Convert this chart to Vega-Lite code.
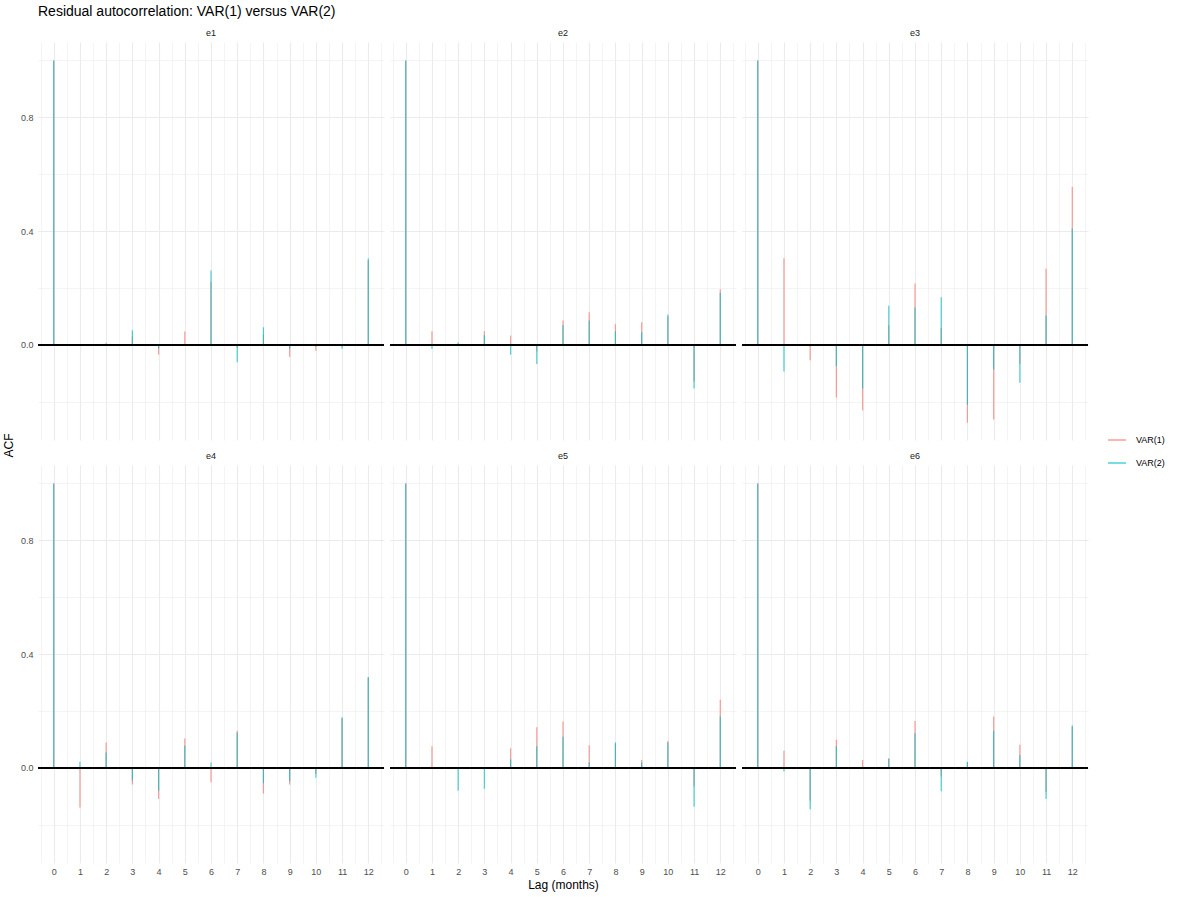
{
  "$schema": "https://vega.github.io/schema/vega-lite/v6.json",
  "background": "white",
  "padding": {"left": 2, "top": 5, "right": 5, "bottom": 5},
  "title": {"text": "Residual autocorrelation: VAR(1) versus VAR(2)", "anchor": "start", "frame": "group", "fontSize": 14, "fontWeight": "normal", "font": "Liberation Sans", "color": "black", "offset": 10},
  "data": {"values": [
    {"series":"e1","model":"VAR(1)","lag":0,"acf":1},{"series":"e1","model":"VAR(2)","lag":0,"acf":1},
    {"series":"e1","model":"VAR(1)","lag":1,"acf":0.002},{"series":"e1","model":"VAR(2)","lag":1,"acf":-0.002},
    {"series":"e1","model":"VAR(1)","lag":2,"acf":0.008},{"series":"e1","model":"VAR(2)","lag":2,"acf":0.002},
    {"series":"e1","model":"VAR(1)","lag":3,"acf":0.03},{"series":"e1","model":"VAR(2)","lag":3,"acf":0.052},
    {"series":"e1","model":"VAR(1)","lag":4,"acf":-0.034},{"series":"e1","model":"VAR(2)","lag":4,"acf":-0.013},
    {"series":"e1","model":"VAR(1)","lag":5,"acf":0.047},{"series":"e1","model":"VAR(2)","lag":5,"acf":0.003},
    {"series":"e1","model":"VAR(1)","lag":6,"acf":0.221},{"series":"e1","model":"VAR(2)","lag":6,"acf":0.262},
    {"series":"e1","model":"VAR(1)","lag":7,"acf":-0.01},{"series":"e1","model":"VAR(2)","lag":7,"acf":-0.061},
    {"series":"e1","model":"VAR(1)","lag":8,"acf":0.036},{"series":"e1","model":"VAR(2)","lag":8,"acf":0.062},
    {"series":"e1","model":"VAR(1)","lag":9,"acf":-0.041},{"series":"e1","model":"VAR(2)","lag":9,"acf":-0.013},
    {"series":"e1","model":"VAR(1)","lag":10,"acf":-0.02},{"series":"e1","model":"VAR(2)","lag":10,"acf":-0.005},
    {"series":"e1","model":"VAR(1)","lag":11,"acf":-0.005},{"series":"e1","model":"VAR(2)","lag":11,"acf":-0.013},
    {"series":"e1","model":"VAR(1)","lag":12,"acf":0.298},{"series":"e1","model":"VAR(2)","lag":12,"acf":0.304},

    {"series":"e2","model":"VAR(1)","lag":0,"acf":1},{"series":"e2","model":"VAR(2)","lag":0,"acf":1},
    {"series":"e2","model":"VAR(1)","lag":1,"acf":0.048},{"series":"e2","model":"VAR(2)","lag":1,"acf":-0.013},
    {"series":"e2","model":"VAR(1)","lag":2,"acf":0.005},{"series":"e2","model":"VAR(2)","lag":2,"acf":0.009},
    {"series":"e2","model":"VAR(1)","lag":3,"acf":0.048},{"series":"e2","model":"VAR(2)","lag":3,"acf":0.034},
    {"series":"e2","model":"VAR(1)","lag":4,"acf":0.033},{"series":"e2","model":"VAR(2)","lag":4,"acf":-0.034},
    {"series":"e2","model":"VAR(1)","lag":5,"acf":-0.022},{"series":"e2","model":"VAR(2)","lag":5,"acf":-0.067},
    {"series":"e2","model":"VAR(1)","lag":6,"acf":0.086},{"series":"e2","model":"VAR(2)","lag":6,"acf":0.069},
    {"series":"e2","model":"VAR(1)","lag":7,"acf":0.115},{"series":"e2","model":"VAR(2)","lag":7,"acf":0.086},
    {"series":"e2","model":"VAR(1)","lag":8,"acf":0.073},{"series":"e2","model":"VAR(2)","lag":8,"acf":0.048},
    {"series":"e2","model":"VAR(1)","lag":9,"acf":0.08},{"series":"e2","model":"VAR(2)","lag":9,"acf":0.045},
    {"series":"e2","model":"VAR(1)","lag":10,"acf":0.1},{"series":"e2","model":"VAR(2)","lag":10,"acf":0.107},
    {"series":"e2","model":"VAR(1)","lag":11,"acf":-0.128},{"series":"e2","model":"VAR(2)","lag":11,"acf":-0.153},
    {"series":"e2","model":"VAR(1)","lag":12,"acf":0.196},{"series":"e2","model":"VAR(2)","lag":12,"acf":0.184},

    {"series":"e3","model":"VAR(1)","lag":0,"acf":1},{"series":"e3","model":"VAR(2)","lag":0,"acf":1},
    {"series":"e3","model":"VAR(1)","lag":1,"acf":0.305},{"series":"e3","model":"VAR(2)","lag":1,"acf":-0.093},
    {"series":"e3","model":"VAR(1)","lag":2,"acf":-0.054},{"series":"e3","model":"VAR(2)","lag":2,"acf":-0.005},
    {"series":"e3","model":"VAR(1)","lag":3,"acf":-0.185},{"series":"e3","model":"VAR(2)","lag":3,"acf":-0.075},
    {"series":"e3","model":"VAR(1)","lag":4,"acf":-0.23},{"series":"e3","model":"VAR(2)","lag":4,"acf":-0.153},
    {"series":"e3","model":"VAR(1)","lag":5,"acf":0.069},{"series":"e3","model":"VAR(2)","lag":5,"acf":0.138},
    {"series":"e3","model":"VAR(1)","lag":6,"acf":0.216},{"series":"e3","model":"VAR(2)","lag":6,"acf":0.132},
    {"series":"e3","model":"VAR(1)","lag":7,"acf":0.06},{"series":"e3","model":"VAR(2)","lag":7,"acf":0.168},
    {"series":"e3","model":"VAR(1)","lag":8,"acf":-0.273},{"series":"e3","model":"VAR(2)","lag":8,"acf":-0.21},
    {"series":"e3","model":"VAR(1)","lag":9,"acf":-0.262},{"series":"e3","model":"VAR(2)","lag":9,"acf":-0.086},
    {"series":"e3","model":"VAR(1)","lag":10,"acf":-0.066},{"series":"e3","model":"VAR(2)","lag":10,"acf":-0.133},
    {"series":"e3","model":"VAR(1)","lag":11,"acf":0.268},{"series":"e3","model":"VAR(2)","lag":11,"acf":0.104},
    {"series":"e3","model":"VAR(1)","lag":12,"acf":0.555},{"series":"e3","model":"VAR(2)","lag":12,"acf":0.409},

    {"series":"e4","model":"VAR(1)","lag":0,"acf":1},{"series":"e4","model":"VAR(2)","lag":0,"acf":1},
    {"series":"e4","model":"VAR(1)","lag":1,"acf":-0.139},{"series":"e4","model":"VAR(2)","lag":1,"acf":0.022},
    {"series":"e4","model":"VAR(1)","lag":2,"acf":0.09},{"series":"e4","model":"VAR(2)","lag":2,"acf":0.054},
    {"series":"e4","model":"VAR(1)","lag":3,"acf":-0.058},{"series":"e4","model":"VAR(2)","lag":3,"acf":-0.044},
    {"series":"e4","model":"VAR(1)","lag":4,"acf":-0.109},{"series":"e4","model":"VAR(2)","lag":4,"acf":-0.08},
    {"series":"e4","model":"VAR(1)","lag":5,"acf":0.104},{"series":"e4","model":"VAR(2)","lag":5,"acf":0.078},
    {"series":"e4","model":"VAR(1)","lag":6,"acf":-0.05},{"series":"e4","model":"VAR(2)","lag":6,"acf":0.019},
    {"series":"e4","model":"VAR(1)","lag":7,"acf":0.131},{"series":"e4","model":"VAR(2)","lag":7,"acf":0.125},
    {"series":"e4","model":"VAR(1)","lag":8,"acf":-0.09},{"series":"e4","model":"VAR(2)","lag":8,"acf":-0.054},
    {"series":"e4","model":"VAR(1)","lag":9,"acf":-0.058},{"series":"e4","model":"VAR(2)","lag":9,"acf":-0.047},
    {"series":"e4","model":"VAR(1)","lag":10,"acf":-0.021},{"series":"e4","model":"VAR(2)","lag":10,"acf":-0.034},
    {"series":"e4","model":"VAR(1)","lag":11,"acf":0.175},{"series":"e4","model":"VAR(2)","lag":11,"acf":0.178},
    {"series":"e4","model":"VAR(1)","lag":12,"acf":0.318},{"series":"e4","model":"VAR(2)","lag":12,"acf":0.32},

    {"series":"e5","model":"VAR(1)","lag":0,"acf":1},{"series":"e5","model":"VAR(2)","lag":0,"acf":1},
    {"series":"e5","model":"VAR(1)","lag":1,"acf":0.076},{"series":"e5","model":"VAR(2)","lag":1,"acf":-0.003},
    {"series":"e5","model":"VAR(1)","lag":2,"acf":-0.002},{"series":"e5","model":"VAR(2)","lag":2,"acf":-0.08},
    {"series":"e5","model":"VAR(1)","lag":3,"acf":-0.002},{"series":"e5","model":"VAR(2)","lag":3,"acf":-0.073},
    {"series":"e5","model":"VAR(1)","lag":4,"acf":0.069},{"series":"e5","model":"VAR(2)","lag":4,"acf":0.03},
    {"series":"e5","model":"VAR(1)","lag":5,"acf":0.143},{"series":"e5","model":"VAR(2)","lag":5,"acf":0.076},
    {"series":"e5","model":"VAR(1)","lag":6,"acf":0.163},{"series":"e5","model":"VAR(2)","lag":6,"acf":0.11},
    {"series":"e5","model":"VAR(1)","lag":7,"acf":0.08},{"series":"e5","model":"VAR(2)","lag":7,"acf":0.02},
    {"series":"e5","model":"VAR(1)","lag":8,"acf":0.085},{"series":"e5","model":"VAR(2)","lag":8,"acf":0.09},
    {"series":"e5","model":"VAR(1)","lag":9,"acf":0.028},{"series":"e5","model":"VAR(2)","lag":9,"acf":0.019},
    {"series":"e5","model":"VAR(1)","lag":10,"acf":0.095},{"series":"e5","model":"VAR(2)","lag":10,"acf":0.09},
    {"series":"e5","model":"VAR(1)","lag":11,"acf":-0.065},{"series":"e5","model":"VAR(2)","lag":11,"acf":-0.136},
    {"series":"e5","model":"VAR(1)","lag":12,"acf":0.24},{"series":"e5","model":"VAR(2)","lag":12,"acf":0.181},

    {"series":"e6","model":"VAR(1)","lag":0,"acf":1},{"series":"e6","model":"VAR(2)","lag":0,"acf":1},
    {"series":"e6","model":"VAR(1)","lag":1,"acf":0.061},{"series":"e6","model":"VAR(2)","lag":1,"acf":-0.012},
    {"series":"e6","model":"VAR(1)","lag":2,"acf":-0.115},{"series":"e6","model":"VAR(2)","lag":2,"acf":-0.145},
    {"series":"e6","model":"VAR(1)","lag":3,"acf":0.099},{"series":"e6","model":"VAR(2)","lag":3,"acf":0.076},
    {"series":"e6","model":"VAR(1)","lag":4,"acf":0.028},{"series":"e6","model":"VAR(2)","lag":4,"acf":0.003},
    {"series":"e6","model":"VAR(1)","lag":5,"acf":0.035},{"series":"e6","model":"VAR(2)","lag":5,"acf":0.032},
    {"series":"e6","model":"VAR(1)","lag":6,"acf":0.165},{"series":"e6","model":"VAR(2)","lag":6,"acf":0.122},
    {"series":"e6","model":"VAR(1)","lag":7,"acf":-0.03},{"series":"e6","model":"VAR(2)","lag":7,"acf":-0.082},
    {"series":"e6","model":"VAR(1)","lag":8,"acf":0.02},{"series":"e6","model":"VAR(2)","lag":8,"acf":0.022},
    {"series":"e6","model":"VAR(1)","lag":9,"acf":0.181},{"series":"e6","model":"VAR(2)","lag":9,"acf":0.131},
    {"series":"e6","model":"VAR(1)","lag":10,"acf":0.082},{"series":"e6","model":"VAR(2)","lag":10,"acf":0.046},
    {"series":"e6","model":"VAR(1)","lag":11,"acf":-0.084},{"series":"e6","model":"VAR(2)","lag":11,"acf":-0.109},
    {"series":"e6","model":"VAR(1)","lag":12,"acf":0.145},{"series":"e6","model":"VAR(2)","lag":12,"acf":0.149}
  ]},
  "columns": 3,
  "spacing": {"row": 25, "column": 6},
  "bounds": "flush",
  "resolve": {"scale": {"x": "independent", "y": "independent", "color": "shared"}, "legend": {"color": "shared"}},
  "concat": [
    {
      "title": {"text": "e1"},
      "transform": [{"filter": "datum.series == 'e1'"}],
      "width": 346, "height": 398,
      "layer": [
        {"mark": {"type": "rule", "strokeWidth": 1.2, "opacity": 0.7},
         "encoding": {
          "x": {"field": "lag", "type": "quantitative", "scale": {"domain": [-0.6, 12.6], "nice": false, "zero": false},
            "axis": {"title": null, "labels": false, "values": [-0.5,0,0.5,1,1.5,2,2.5,3,3.5,4,4.5,5,5.5,6,6.5,7,7.5,8,8.5,9,9.5,10,10.5,11,11.5,12,12.5],
              "gridWidth": {"condition": {"test": "datum.value % 1 == 0", "value": 1.1}, "value": 0.55}}},
          "y": {"field": "acf", "type": "quantitative", "scale": {"domain": [-0.334, 1.065], "nice": false, "zero": false},
            "axis": {"title": "ACF", "titleY": 403, "values": [-0.2, 0, 0.2, 0.4, 0.6, 0.8, 1],
              "labelExpr": "round(datum.value * 10) % 4 == 0 ? format(datum.value, '.1f') : ''",
              "gridWidth": {"condition": {"test": "round(datum.value * 10) % 4 == 0", "value": 1.1}, "value": 0.55}}},
          "y2": {"datum": 0},
          "color": {"field": "model", "type": "nominal", "scale": {"domain": ["VAR(1)", "VAR(2)"], "range": ["#F8766D", "#00BFC4"]}, "legend": {"title": null}}
         }},
        {"mark": {"type": "rule", "color": "black", "strokeWidth": 1.2}, "encoding": {"y": {"datum": 0}}}
      ]
    },
    {
      "title": {"text": "e2"},
      "transform": [{"filter": "datum.series == 'e2'"}],
      "width": 346, "height": 398,
      "layer": [
        {"mark": {"type": "rule", "strokeWidth": 1.2, "opacity": 0.7},
         "encoding": {
          "x": {"field": "lag", "type": "quantitative", "scale": {"domain": [-0.6, 12.6], "nice": false, "zero": false},
            "axis": {"title": null, "labels": false, "values": [-0.5,0,0.5,1,1.5,2,2.5,3,3.5,4,4.5,5,5.5,6,6.5,7,7.5,8,8.5,9,9.5,10,10.5,11,11.5,12,12.5],
              "gridWidth": {"condition": {"test": "datum.value % 1 == 0", "value": 1.1}, "value": 0.55}}},
          "y": {"field": "acf", "type": "quantitative", "scale": {"domain": [-0.334, 1.065], "nice": false, "zero": false},
            "axis": {"title": null, "labels": false, "values": [-0.2, 0, 0.2, 0.4, 0.6, 0.8, 1],
              "gridWidth": {"condition": {"test": "round(datum.value * 10) % 4 == 0", "value": 1.1}, "value": 0.55}}},
          "y2": {"datum": 0},
          "color": {"field": "model", "type": "nominal", "scale": {"domain": ["VAR(1)", "VAR(2)"], "range": ["#F8766D", "#00BFC4"]}, "legend": {"title": null}}
         }},
        {"mark": {"type": "rule", "color": "black", "strokeWidth": 1.2}, "encoding": {"y": {"datum": 0}}}
      ]
    },
    {
      "title": {"text": "e3"},
      "transform": [{"filter": "datum.series == 'e3'"}],
      "width": 346, "height": 398,
      "layer": [
        {"mark": {"type": "rule", "strokeWidth": 1.2, "opacity": 0.7},
         "encoding": {
          "x": {"field": "lag", "type": "quantitative", "scale": {"domain": [-0.6, 12.6], "nice": false, "zero": false},
            "axis": {"title": null, "labels": false, "values": [-0.5,0,0.5,1,1.5,2,2.5,3,3.5,4,4.5,5,5.5,6,6.5,7,7.5,8,8.5,9,9.5,10,10.5,11,11.5,12,12.5],
              "gridWidth": {"condition": {"test": "datum.value % 1 == 0", "value": 1.1}, "value": 0.55}}},
          "y": {"field": "acf", "type": "quantitative", "scale": {"domain": [-0.334, 1.065], "nice": false, "zero": false},
            "axis": {"title": null, "labels": false, "values": [-0.2, 0, 0.2, 0.4, 0.6, 0.8, 1],
              "gridWidth": {"condition": {"test": "round(datum.value * 10) % 4 == 0", "value": 1.1}, "value": 0.55}}},
          "y2": {"datum": 0},
          "color": {"field": "model", "type": "nominal", "scale": {"domain": ["VAR(1)", "VAR(2)"], "range": ["#F8766D", "#00BFC4"]}, "legend": {"title": null}}
         }},
        {"mark": {"type": "rule", "color": "black", "strokeWidth": 1.2}, "encoding": {"y": {"datum": 0}}}
      ]
    },
    {
      "title": {"text": "e4"},
      "transform": [{"filter": "datum.series == 'e4'"}],
      "width": 346, "height": 398,
      "layer": [
        {"mark": {"type": "rule", "strokeWidth": 1.2, "opacity": 0.7},
         "encoding": {
          "x": {"field": "lag", "type": "quantitative", "scale": {"domain": [-0.6, 12.6], "nice": false, "zero": false},
            "axis": {"title": null, "values": [-0.5,0,0.5,1,1.5,2,2.5,3,3.5,4,4.5,5,5.5,6,6.5,7,7.5,8,8.5,9,9.5,10,10.5,11,11.5,12,12.5],
              "labelExpr": "datum.value % 1 == 0 ? format(datum.value, 'd') : ''",
              "gridWidth": {"condition": {"test": "datum.value % 1 == 0", "value": 1.1}, "value": 0.55}}},
          "y": {"field": "acf", "type": "quantitative", "scale": {"domain": [-0.334, 1.065], "nice": false, "zero": false},
            "axis": {"title": null, "values": [-0.2, 0, 0.2, 0.4, 0.6, 0.8, 1],
              "labelExpr": "round(datum.value * 10) % 4 == 0 ? format(datum.value, '.1f') : ''",
              "gridWidth": {"condition": {"test": "round(datum.value * 10) % 4 == 0", "value": 1.1}, "value": 0.55}}},
          "y2": {"datum": 0},
          "color": {"field": "model", "type": "nominal", "scale": {"domain": ["VAR(1)", "VAR(2)"], "range": ["#F8766D", "#00BFC4"]}, "legend": {"title": null}}
         }},
        {"mark": {"type": "rule", "color": "black", "strokeWidth": 1.2}, "encoding": {"y": {"datum": 0}}}
      ]
    },
    {
      "title": {"text": "e5"},
      "transform": [{"filter": "datum.series == 'e5'"}],
      "width": 346, "height": 398,
      "layer": [
        {"mark": {"type": "rule", "strokeWidth": 1.2, "opacity": 0.7},
         "encoding": {
          "x": {"field": "lag", "type": "quantitative", "scale": {"domain": [-0.6, 12.6], "nice": false, "zero": false},
            "axis": {"title": "Lag (months)", "values": [-0.5,0,0.5,1,1.5,2,2.5,3,3.5,4,4.5,5,5.5,6,6.5,7,7.5,8,8.5,9,9.5,10,10.5,11,11.5,12,12.5],
              "labelExpr": "datum.value % 1 == 0 ? format(datum.value, 'd') : ''",
              "gridWidth": {"condition": {"test": "datum.value % 1 == 0", "value": 1.1}, "value": 0.55}}},
          "y": {"field": "acf", "type": "quantitative", "scale": {"domain": [-0.334, 1.065], "nice": false, "zero": false},
            "axis": {"title": null, "labels": false, "values": [-0.2, 0, 0.2, 0.4, 0.6, 0.8, 1],
              "gridWidth": {"condition": {"test": "round(datum.value * 10) % 4 == 0", "value": 1.1}, "value": 0.55}}},
          "y2": {"datum": 0},
          "color": {"field": "model", "type": "nominal", "scale": {"domain": ["VAR(1)", "VAR(2)"], "range": ["#F8766D", "#00BFC4"]}, "legend": {"title": null}}
         }},
        {"mark": {"type": "rule", "color": "black", "strokeWidth": 1.2}, "encoding": {"y": {"datum": 0}}}
      ]
    },
    {
      "title": {"text": "e6"},
      "transform": [{"filter": "datum.series == 'e6'"}],
      "width": 346, "height": 398,
      "layer": [
        {"mark": {"type": "rule", "strokeWidth": 1.2, "opacity": 0.7},
         "encoding": {
          "x": {"field": "lag", "type": "quantitative", "scale": {"domain": [-0.6, 12.6], "nice": false, "zero": false},
            "axis": {"title": null, "values": [-0.5,0,0.5,1,1.5,2,2.5,3,3.5,4,4.5,5,5.5,6,6.5,7,7.5,8,8.5,9,9.5,10,10.5,11,11.5,12,12.5],
              "labelExpr": "datum.value % 1 == 0 ? format(datum.value, 'd') : ''",
              "gridWidth": {"condition": {"test": "datum.value % 1 == 0", "value": 1.1}, "value": 0.55}}},
          "y": {"field": "acf", "type": "quantitative", "scale": {"domain": [-0.334, 1.065], "nice": false, "zero": false},
            "axis": {"title": null, "labels": false, "values": [-0.2, 0, 0.2, 0.4, 0.6, 0.8, 1],
              "gridWidth": {"condition": {"test": "round(datum.value * 10) % 4 == 0", "value": 1.1}, "value": 0.55}}},
          "y2": {"datum": 0},
          "color": {"field": "model", "type": "nominal", "scale": {"domain": ["VAR(1)", "VAR(2)"], "range": ["#F8766D", "#00BFC4"]}, "legend": {"title": null}}
         }},
        {"mark": {"type": "rule", "color": "black", "strokeWidth": 1.2}, "encoding": {"y": {"datum": 0}}}
      ]
    }
  ],
  "config": {
    "view": {"stroke": null},
    "title": {"fontSize": 9, "fontWeight": "normal", "font": "Liberation Sans", "color": "#1a1a1a", "offset": 4, "anchor": "middle"},
    "axis": {"ticks": false, "domain": false, "labelOverlap": false, "labelBound": false, "gridColor": "#EBEBEB",
      "labelFontSize": 9, "labelColor": "#4d4d4d", "labelFont": "Liberation Sans",
      "titleFontSize": 12, "titleFontWeight": "normal", "titleColor": "black", "titleFont": "Liberation Sans"},
    "axisX": {"labelPadding": 4, "titlePadding": 3},
    "axisY": {"labelPadding": 5, "titlePadding": 5},
    "legend": {"orient": "none", "legendX": 1069, "legendY": 388, "symbolType": "stroke", "symbolSize": 324, "symbolStrokeWidth": 1.5, "symbolOpacity": 0.7,
      "labelFontSize": 9, "labelColor": "black", "labelFont": "Liberation Sans", "rowPadding": 8, "labelOffset": 9}
  }
}
